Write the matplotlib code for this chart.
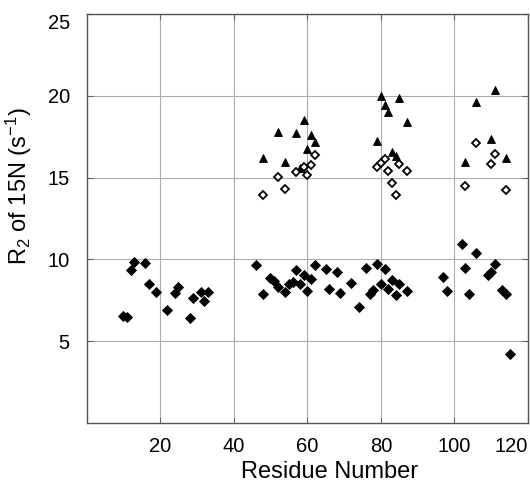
import matplotlib.pyplot as plt

plt.rcParams["font.family"] = ["Liberation Sans", "DejaVu Sans"]
plt.rcParams["mathtext.fontset"] = "custom"
plt.rcParams["mathtext.rm"] = "Liberation Sans"
plt.rcParams["mathtext.default"] = "regular"

# R2 relaxation rates per residue, three data sets
residue_diamond = [10, 11, 12, 13, 16, 17, 19, 22, 24, 25, 28, 29, 31, 32, 33,
                   46, 48, 50, 51, 52, 54, 55, 56, 57, 58, 59, 60, 61, 62,
                   65, 66, 68, 69, 72, 74, 76, 77, 78, 79, 80, 81, 82, 83, 84,
                   85, 87, 97, 98, 102, 103, 104, 106, 109, 110, 111, 113,
                   114, 115]
r2_diamond = [6.55, 6.45, 9.35, 9.83, 9.79, 8.49, 7.98, 6.88, 7.92, 8.29,
              6.39, 7.67, 7.98, 7.45, 7.98,
              9.63, 7.91, 8.88, 8.65, 8.30, 7.99, 8.52, 8.62, 9.37, 8.52,
              9.02, 8.05, 8.78, 9.68,
              9.43, 8.21, 9.23, 7.97, 8.55, 7.09, 9.45, 7.91, 8.15, 9.70,
              8.48, 9.43, 8.21, 8.76, 7.85,
              8.52, 8.07, 8.92, 8.07, 10.96, 9.49, 7.87, 10.38, 9.07, 9.23,
              9.70, 8.11,
              7.87, 4.21]

residue_triangle = [48, 52, 54, 57, 58, 59, 60, 61, 62,
                    79, 80, 81, 82, 83, 84, 85, 87,
                    103, 106, 110, 111, 114]
r2_triangle = [16.22, 17.78, 15.95, 17.71, 15.60, 18.54, 16.73, 17.58, 17.18,
               17.23, 19.96, 19.43, 19.02, 16.59, 16.34, 19.86, 18.37,
               15.98, 19.65, 17.36, 20.35, 16.20]

residue_open = [48, 52, 54, 57, 59, 60, 61, 62,
                79, 80, 81, 82, 83, 84, 85, 87,
                103, 106, 110, 111, 114]
r2_open = [13.95, 15.02, 14.30, 15.32, 15.63, 15.17, 15.78, 16.36,
           15.67, 15.89, 16.11, 15.40, 14.68, 13.96, 15.84, 15.38,
           14.51, 17.13, 15.84, 16.45, 14.27]

x_ticks = [20, 40, 60, 80, 100, 120]
y_ticks = [5, 10, 15, 20, 25]

fig = plt.figure(figsize=(5.30, 4.83), dpi=100)
ax = fig.add_axes([86.5 / 530, 60 / 483, 441.5 / 530, 409 / 483])

ax.plot(residue_diamond, r2_diamond, "D", color="black", ms=4.6,
        mec="black", mew=0.6, ls="none", zorder=3)
ax.plot(residue_triangle, r2_triangle, "^", color="black", ms=6.0,
        mec="black", mew=0.6, ls="none", zorder=3)
ax.plot(residue_open, r2_open, "D", mfc="white", ms=4.0,
        mec="black", mew=1.3, ls="none", zorder=4)

ax.set_xlim(0, 120)
ax.set_ylim(0, 25)
ax.set_xticks(x_ticks)
ax.set_yticks(y_ticks)
ax.grid(True, color="#acacac", lw=0.8)
ax.set_axisbelow(True)
ax.tick_params(direction="in", length=4, color="#666666", labelsize=14.5,
               top=True, right=True)
ax.tick_params(axis="x", pad=10)
ax.tick_params(axis="y", pad=12)
ax.get_xticklabels()[-1].set_ha("right")
ax.get_yticklabels()[-1].set_va("top")
for sp in ax.spines.values():
    sp.set_color("#555555")
    sp.set_linewidth(1.0)

ax.set_xlabel("Residue Number", fontsize=17)
ax.xaxis.set_label_coords(0.55, -0.092)
ax.set_ylabel("R$_2$ of 15N (s$^{-1}$)", fontsize=17)
ax.yaxis.set_label_coords(-0.12, 0.58)

fig.savefig("out.png", dpi=100)
